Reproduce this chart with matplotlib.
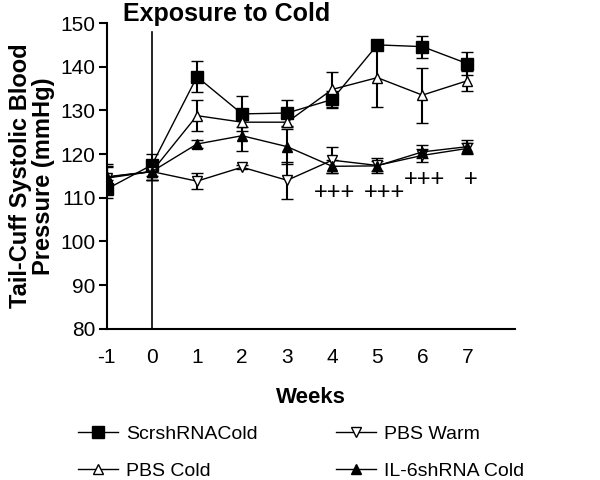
import matplotlib
matplotlib.use("Agg")
import matplotlib.pyplot as plt

plt.rcParams['font.family'] = ['Liberation Sans', 'DejaVu Sans']
plt.rcParams['axes.unicode_minus'] = False

weeks = [-1, 0, 1, 2, 3, 4, 5, 6, 7]

scr_cold = [112.0, 117.5, 137.7, 129.2, 129.4, 132.5, 145.0, 144.6, 140.7]
scr_cold_err = [2.0, 2.5, 3.6, 4.0, 3.0, 2.0, 1.0, 2.5, 2.7]

pbs_cold = [114.8, 116.0, 128.8, 127.3, 127.3, 134.8, 137.5, 133.5, 136.8]
pbs_cold_err = [3.0, 2.0, 3.6, 1.0, 1.0, 4.0, 6.8, 6.3, 2.3]

il6_cold = [114.7, 116.0, 122.3, 124.2, 121.7, 117.2, 117.3, 120.5, 121.7]
il6_cold_err = [2.5, 2.0, 1.0, 3.5, 4.0, 1.5, 1.2, 1.5, 1.5]

pbs_warm = [114.5, 116.0, 113.8, 117.0, 114.0, 118.6, 117.4, 119.7, 121.3]
pbs_warm_err = [2.5, 2.0, 1.8, 0.5, 4.2, 3.0, 1.8, 1.5, 1.2]

sig_x = [4.05, 5.15, 6.04, 7.08]
sig_y = [111.0, 111.0, 114.0, 114.0]
sig_labels = ['+++', '+++', '+++', '+']

fig = plt.figure(figsize=(6, 4.8), dpi=100)
ax = fig.add_axes([0.178, 0.315, 0.68, 0.637])

common = dict(color='black', linewidth=1.0, elinewidth=1.5, capsize=4.5,
              capthick=1.5, markeredgecolor='black', markeredgewidth=1.0)

h1 = ax.errorbar(weeks, scr_cold, yerr=scr_cold_err, marker='s', markersize=8,
                 markerfacecolor='black', label='ScrshRNACold', **common)
h2 = ax.errorbar(weeks, pbs_cold, yerr=pbs_cold_err, marker='^', markersize=7.5,
                 markerfacecolor='white', label='PBS Cold', **common)
h3 = ax.errorbar(weeks, pbs_warm, yerr=pbs_warm_err, marker='v', markersize=7.5,
                 markerfacecolor='white', label='PBS Warm', **common)
h4 = ax.errorbar(weeks, il6_cold, yerr=il6_cold_err, marker='^', markersize=7.5,
                 markerfacecolor='black', label='IL-6shRNA Cold', **common)

# start of cold exposure
ax.plot([0, 0], [80, 148], color='black', linewidth=1.2)
ax.text(1.65, 152.0, 'Exposure to Cold', fontsize=18, fontweight='bold',
        ha='center', va='center')

for x, y, s in zip(sig_x, sig_y, sig_labels):
    ax.text(x, y, s, fontsize=17, ha='center', va='center')

ax.set_xlim(-1, 8.05)
ax.set_ylim(80, 150)
ax.set_xticks(weeks)
ax.set_yticks(range(80, 151, 10))
ax.tick_params(axis='x', length=0, pad=14, labelsize=15)
ax.tick_params(axis='y', length=6, width=1.5, labelsize=15, pad=2)
for s in ['top', 'right']:
    ax.spines[s].set_visible(False)
for s in ['left', 'bottom']:
    ax.spines[s].set_linewidth(1.5)

ax.set_xlabel('Weeks', fontsize=16, fontweight='bold', labelpad=14)
ax.set_ylabel('Tail-Cuff Systolic Blood\nPressure (mmHg)', fontsize=17,
              fontweight='bold', labelpad=4, linespacing=1.0)

fig.legend(handles=[h1[0], h2[0], h3[0], h4[0]],
           labels=['ScrshRNACold', 'PBS Cold', 'PBS Warm', 'IL-6shRNA Cold'],
           loc='upper left', bbox_to_anchor=(0.10, 0.15),
           ncol=2, frameon=False, fontsize=14, columnspacing=4.0,
           handlelength=2.1, handletextpad=0.4, labelspacing=1.0)

fig.savefig('out.png', dpi=100)
